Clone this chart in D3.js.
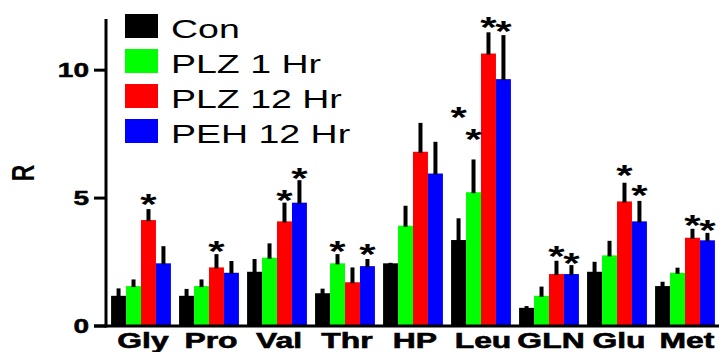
<!DOCTYPE html>
<head>
<meta charset="utf-8">
<script src="https://d3js.org/d3.v7.min.js"></script>
</head>
<style>
  body { margin: 0; background: #fff; }
  text { font-family: Arial, "Liberation Sans", Helvetica, sans-serif; }
</style>
<body>
<svg id="chart" width="728" height="352"></svg>
<script>
// amino acids on the x axis
const categories = ["Gly", "Pro", "Val", "Thr", "HP", "Leu", "GLN", "Glu", "Met"];
const seriesNames = ["Con", "PLZ 1 Hr", "PLZ 12 Hr", "PEH 12 Hr"];
const seriesColors = ["#000000", "#00ff00", "#ff0000", "#0000ff"];

// means
const con   = [1.18, 1.18, 2.12, 1.28, 2.45, 3.36, 0.71, 2.12, 1.56];
const plz1  = [1.56, 1.56, 2.67, 2.45, 3.92, 5.23, 1.18, 2.76, 2.08];
const plz12 = [4.14, 2.29, 4.09, 1.71, 6.81, 10.65, 2.03, 4.87, 3.45];
const peh12 = [2.45, 2.08, 4.82, 2.34, 5.96, 9.65, 2.03, 4.09, 3.35];

// error (upper only)
const conErr   = [0.29, 0.27, 0.50, 0.18, 0.02, 0.85, 0.07, 0.39, 0.17];
const plz1Err  = [0.26, 0.26, 0.56, 0.36, 0.78, 1.28, 0.36, 0.57, 0.20];
const plz12Err = [0.43, 0.52, 0.73, 0.58, 1.13, 0.83, 0.52, 0.73, 0.35];
const peh12Err = [0.67, 0.46, 0.88, 0.28, 1.24, 1.72, 0.35, 0.80, 0.29];

// significance stars: level (R units) where the * sits, null = none
const conStar   = [null, null, null, null, null, 8.44, null, null, null];
const plz1Star  = [null, null, null, 3.20, null, 7.58, null, null, null];
const plz12Star = [5.04, 3.20, 5.20, null, null, 11.95, 3.01, 6.17, 4.22];
const peh12Star = [null, null, 6.05, 3.09, null, 11.80, 2.73, 5.39, 4.02];

const yTicks = [0, 5, 10];

const means = [con, plz1, plz12, peh12];
const errs = [conErr, plz1Err, plz12Err, peh12Err];
const stars = [conStar, plz1Star, plz12Star, peh12Star];

const rows = [];
categories.forEach((c, i) => {
  seriesNames.forEach((s, j) => {
    rows.push({cat: c, series: s, color: seriesColors[j],
      value: means[j][i], err: errs[j][i], star: stars[j][i]});
  });
});

const svg = d3.select("#chart");
const stretch = 1.4;   // the original figure is stretched sideways

const x = d3.scaleBand()
  .domain(categories)
  .range([107, 719])
  .paddingInner(0.12)
  .paddingOuter(0.06);

const xs = d3.scaleBand()
  .domain(seriesNames)
  .range([0, x.bandwidth()]);

const y = d3.scaleLinear()
  .domain([0, 12])
  .range([326, 19]);

// bars
svg.append("g")
  .selectAll("rect")
  .data(rows)
  .join("rect")
    .attr("x", d => x(d.cat) + xs(d.series))
    .attr("y", d => y(d.value))
    .attr("width", xs.bandwidth())
    .attr("height", d => y(0) - y(d.value))
    .attr("fill", d => d.color);

// error bars
svg.append("g")
  .selectAll("line")
  .data(rows)
  .join("line")
    .attr("x1", d => x(d.cat) + xs(d.series) + xs.bandwidth() / 2)
    .attr("x2", d => x(d.cat) + xs(d.series) + xs.bandwidth() / 2)
    .attr("y1", d => y(d.value) + 1)
    .attr("y2", d => y(d.value + d.err))
    .attr("stroke", "black")
    .attr("stroke-width", 4);

// stars
svg.append("g")
  .selectAll("text")
  .data(rows.filter(d => d.star != null))
  .join("text")
    .attr("transform", d => `translate(${x(d.cat) + xs(d.series) + xs.bandwidth() / 2},${y(d.star) + 17}) scale(${stretch},1)`)
    .attr("text-anchor", "middle")
    .style("font-size", "30px")
    .style("font-weight", "bold")
    .text("*");

// axes
const ax = svg.append("g");
ax.append("line")
  .attr("x1", 106).attr("x2", 106)
  .attr("y1", y(12)).attr("y2", y(0) + 1.5)
  .attr("stroke", "black").attr("stroke-width", 3);
ax.append("line")
  .attr("x1", 94).attr("x2", 719)
  .attr("y1", y(0)).attr("y2", y(0))
  .attr("stroke", "black").attr("stroke-width", 3);

ax.selectAll(".tick")
  .data(yTicks)
  .join("line")
    .attr("x1", 94).attr("x2", 106)
    .attr("y1", d => y(d)).attr("y2", d => y(d))
    .attr("stroke", "black").attr("stroke-width", 3);

ax.selectAll(".ticklabel")
  .data(yTicks)
  .join("text")
    .attr("transform", d => `translate(89,${y(d) + 7}) scale(${stretch},1)`)
    .attr("text-anchor", "end")
    .style("font-size", "20px")
    .style("font-weight", "bold")
    .style("stroke", "black")
    .style("stroke-width", 0.5)
    .text(d => d);

ax.selectAll(".catlabel")
  .data(categories)
  .join("text")
    .attr("transform", d => `translate(${x(d) + x.bandwidth() / 2 + 2},348) scale(1.45,1)`)
    .attr("text-anchor", "middle")
    .style("font-size", "22px")
    .style("font-weight", "bold")
    .style("stroke", "black")
    .style("stroke-width", 0.6)
    .text(d => d);

// y title
svg.append("text")
  .attr("transform", `translate(34,173) scale(${stretch},1) rotate(-90)`)
  .attr("text-anchor", "middle")
  .style("font-size", "23px")
  .style("font-weight", "bold")
  .text("R");

// legend
const legend = svg.append("g")
  .selectAll("g")
  .data(seriesNames)
  .join("g")
    .attr("transform", (d, i) => `translate(125,${14 + i * 35})`);

legend.append("rect")
  .attr("width", 33)
  .attr("height", 24)
  .attr("fill", (d, i) => seriesColors[i]);

legend.append("text")
  .attr("transform", `translate(46,24) scale(1.5,1)`)
  .style("font-size", "25px")
  .text(d => d);
</script>
</body>
